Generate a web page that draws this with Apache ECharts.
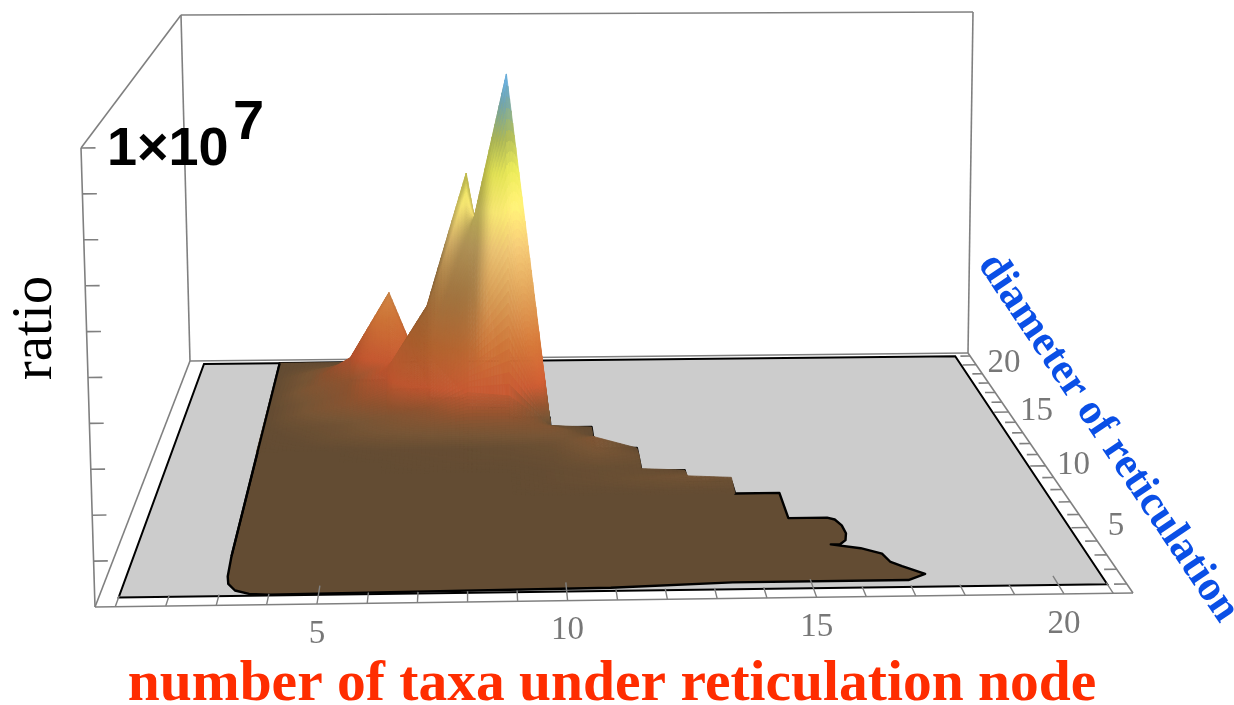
<!DOCTYPE html>
<html>
<head>
<meta charset="utf-8">
<style>
  html, body { margin: 0; padding: 0; background: #fff; }
  #chart { width: 1234px; height: 705px; }
</style>
<script src="https://cdn.jsdelivr.net/npm/echarts@6/dist/echarts.min.js"></script>
</head>
<body>
<div id="chart"></div>
<script>
// values, ratio in units of 1e6
var taxaStart = 3
var diameters = [21, 20, 19, 18, 17, 16, 15, 14, 13, 12, 11, 10, 9, 8]
var ratioGrid = [
    [0, 0, 0],
    [0, 0.1, 0.15],
    [0, 0.25, 0.55, 0],
    [0, 0.25, 0.9, 2.7, 0],
    [0, 0.3, 0.5, 1.0, 1.2, 0],
    [0, 0.2, 0.45, 1.1, 2.8, 6.4, 0],
    [0, 0.2, 0.4, 0.8, 2.1, 4.5, 9.25, 0],
    [0, 0.08, 0.15, 0.3, 0.5, 0.95, 0.85, 0.05, 0],
    [0, 0.03, 0.12, 0.2, 0.25, 0.3, 0.35, 0.3, 0.02],
    [0, 0, 0, 0.03, 0.03, 0.03, 0.05, 0.1, 0.3, 0],
    [0, 0, 0, 0, 0.02, 0.03, 0.03, 0.05, 0.2, 0.1],
    [0, 0, 0, 0, 0, 0, 0, 0.03, 0.05, 0.05, 0],
    [0, 0, 0, 0, 0, 0, 0, 0.03, 0.05, 0.1, 0.15, 0.1],
    [0, 0, 0, 0, 0, 0, 0, 0, 0, 0, 0, 0, 0]
]
// edge of the brown sheet on the floor
var outlineTaxa = [3, 5, 5, 6, 6, 7, 7, 8, 8, 9, 9, 10, 10, 11, 11, 11, 12, 12, 13, 13, 14, 14, 15, 15, 15.85, 16, 16.1, 16.12, 16.05, 15.9, 15.7, 16.3, 16.7, 16.8, 17, 17.4, 17, 13.4, 10.9, 4, 3.6, 3.3, 3.13, 3.08, 3.05]
var outlineDiam = [21, 21, 19, 19, 18, 18, 17, 17, 16, 16, 15, 15, 14, 14, 13, 12, 12, 10, 10, 9, 9, 8, 8, 6, 6, 5.85, 5.4, 4.8, 4.3, 4, 4, 3.7, 3.3, 2.7, 2.4, 1.85, 1.45, 1.45, 1.2, 1.05, 1.12, 1.35, 1.8, 2.3, 3.7]
var tickLabelsTaxa = [5, 10, 15, 20]
var tickLabelsDiam = [5, 10, 15, 20]
var ratioTicks = [1, 2, 3, 4, 5, 6, 7, 8, 9, 10]

// box extents in data units
var X0 = 0.6, X1 = 21.4, D0 = 0.4, D1 = 21.35, ZTOP = 10

// screen corners of the floor and the roof of the box
function homography(p00, p10, p11, p01) {
    var dx1 = p10[0] - p11[0], dx2 = p01[0] - p11[0], sx = p00[0] - p10[0] + p11[0] - p01[0]
    var dy1 = p10[1] - p11[1], dy2 = p01[1] - p11[1], sy = p00[1] - p10[1] + p11[1] - p01[1]
    var den = dx1 * dy2 - dx2 * dy1
    var g = (sx * dy2 - dx2 * sy) / den, h = (dx1 * sy - sx * dy1) / den
    var a = p10[0] - p00[0] + g * p10[0], b = p01[0] - p00[0] + h * p01[0]
    var d = p10[1] - p00[1] + g * p10[1], e = p01[1] - p00[1] + h * p01[1]
    return function (u, v) {
        var w = g * u + h * v + 1
        return [(a * u + b * v + p00[0]) / w, (d * u + e * v + p00[1]) / w]
    }
}
var floorH = homography([95, 607], [1133, 593], [968, 353], [190, 361])
var roofH = homography([81, 148], [1135, 141], [973, 12], [181, 15])

function project(x, d, z) {
    var u = (x - X0) / (X1 - X0), v = (d - D0) / (D1 - D0)
    var a = floorH(u, v), b = roofH(u, v), t = z / ZTOP
    return [a[0] + (b[0] - a[0]) * t, a[1] + (b[1] - a[1]) * t]
}

function gridAt(x, d) {
    var row = diameters.indexOf(d)
    if (row < 0) return null
    var v = ratioGrid[row][x - taxaStart]
    return v === undefined ? null : v
}

// bilinear height anywhere, used for the light
function heightAt(x, d) {
    var xi = Math.floor(x), di = Math.floor(d), u = x - xi, v = d - di
    var z00 = gridAt(xi, di) || 0, z10 = gridAt(xi + 1, di) || 0
    var z01 = gridAt(xi, di + 1) || 0, z11 = gridAt(xi + 1, di + 1) || 0
    return z00 * (1 - u) * (1 - v) + z10 * u * (1 - v) + z01 * (1 - u) * v + z11 * u * v
}

var colorStops = [
    [0, 99, 76, 51], [0.2, 120, 86, 54], [0.5, 145, 84, 48], [1, 200, 90, 50], [2, 205, 115, 55],
    [3.3, 215, 155, 85], [4.6, 235, 195, 115], [5.6, 248, 232, 115], [6.6, 225, 225, 85],
    [7.5, 170, 180, 85], [8.5, 110, 160, 170], [9.25, 100, 175, 235]
]
function surfaceColor(z, shade) {
    var i = 0
    while (i < colorStops.length - 2 && z > colorStops[i + 1][0]) i++
    var a = colorStops[i], b = colorStops[i + 1]
    var t = Math.min(1, Math.max(0, (z - a[0]) / (b[0] - a[0])))
    var c = [1, 2, 3].map(function (k) {
        return Math.min(255, Math.round((a[k] + (b[k] - a[k]) * t) * shade))
    })
    return 'rgb(' + c.join(',') + ')'
}

// split each grid cell so the colour runs smoothly, finer where it is steep
var cells = []
diameters.forEach(function (d) {
    if (d === diameters[0]) return
    ratioGrid[diameters.indexOf(d)].forEach(function (v, i) {
        var x = taxaStart + i
        var z = [gridAt(x, d), gridAt(x + 1, d), gridAt(x, d + 1), gridAt(x + 1, d + 1)]
        if (z.indexOf(null) >= 0 || z[0] + z[1] + z[2] + z[3] === 0) return
        var sub = Math.max.apply(null, z) - Math.min.apply(null, z) > 1.5 ? 28 : 10
        for (var m = 0; m < sub; m++) {
            for (var n = 0; n < sub; n++) {
                cells.push([x, d, n / sub, m / sub, 1 / sub])
            }
        }
    })
})
cells.sort(function (a, b) {
    var da = a[1] + a[3], db = b[1] + b[3]
    if (da !== db) return db - da
    return Math.abs(b[0] + b[2] - 12) - Math.abs(a[0] + a[2] - 12)
})

function renderCell(params, api) {
    var c = cells[params.dataIndex]
    var xi = c[0], di = c[1], u0 = c[2], v0 = c[3], s = c[4]
    var z00 = gridAt(xi, di), z10 = gridAt(xi + 1, di), z01 = gridAt(xi, di + 1), z11 = gridAt(xi + 1, di + 1)
    function zAt(u, v) {
        return z00 * (1 - u) * (1 - v) + z10 * u * (1 - v) + z01 * (1 - u) * v + z11 * u * v
    }
    var corners = [[u0, v0], [u0 + s, v0], [u0 + s, v0 + s], [u0, v0 + s]]
    var pts = corners.map(function (p) {
        return api.coord(project(xi + p[0], di + p[1], zAt(p[0], p[1])))
    })
    var uc = u0 + s / 2, vc = v0 + s / 2, xc = xi + uc, dc = di + vc
    var slopeX = (heightAt(xc + 0.8, dc) - heightAt(xc - 0.8, dc)) / 1.6
    var slopeD = (heightAt(xc, dc + 0.45) - heightAt(xc, dc - 0.45)) / 0.9
    var k = Math.min(1, Math.abs(slopeX) / 3)
    k = k * k * (3 - 2 * k)
    var shade = slopeX > 0 ? 1 - 0.26 * k : 1 + 0.05 * k
    if (slopeD < 0) shade -= 0.2 * Math.min(1, -slopeD / 1.5)
    var color = surfaceColor(zAt(uc, vc), shade)
    return {
        type: 'polygon',
        shape: { points: pts },
        style: { fill: color, stroke: color, lineWidth: 0.8 }
    }
}

// box edges and inward ticks, as [x, d, z, x, d, z]
var boxEdges = [
    [X0, D0, 0, X1, D0, 0], [X1, D0, 0, X1, D1, 0], [X1, D1, 0, X0, D1, 0], [X0, D1, 0, X0, D0, 0],
    [X0, D0, 0, X0, D0, ZTOP], [X0, D1, 0, X0, D1, ZTOP], [X1, D1, 0, X1, D1, ZTOP],
    [X0, D0, ZTOP, X0, D1, ZTOP], [X0, D1, ZTOP, X1, D1, ZTOP]
]
ratioTicks.forEach(function (t) {
    boxEdges.push([X0, D0, t, X0 + 0.28, D0, t])
})
for (var dt = 1; dt <= 21; dt++) {
    boxEdges.push([X1, dt, 0, X1 - (dt % 5 === 0 ? 0.36 : 0.26), dt, 0])
}
var frontTicks = []
for (var xt = 1; xt <= 21; xt++) {
    frontTicks.push([xt, D0, 0, xt, D0 + (xt % 5 === 0 ? 1.2 : 0.7), 0])
}
// the left side of the sheet stays visible over the mesh
var leftEdge = [[3, 21, 0, 3.05, 3.7, 0]]

function renderSegment(color, width, list) {
    return function (params, api) {
        var s = list[params.dataIndex]
        var a = api.coord(project(s[0], s[1], s[2])), b = api.coord(project(s[3], s[4], s[5]))
        return {
            type: 'line',
            shape: { x1: a[0], y1: a[1], x2: b[0], y2: b[1] },
            style: { stroke: color, lineWidth: width }
        }
    }
}

function renderFloor(params, api) {
    var plane = [[1, 1], [21, 1], [21, 21], [1, 21]].map(function (p) {
        return api.coord(project(p[0], p[1], 0))
    })
    var sheet = outlineTaxa.map(function (x, i) {
        return api.coord(project(x, outlineDiam[i], 0))
    })
    return {
        type: 'group',
        children: [
            { type: 'polygon', shape: { points: plane }, style: { fill: '#cccccc', stroke: '#000', lineWidth: 2 } },
            { type: 'polygon', shape: { points: sheet }, style: { fill: 'rgb(99,76,51)', stroke: '#000', lineWidth: 2.4, lineJoin: 'round' } }
        ]
    }
}

var tickLabels = []
tickLabelsTaxa.forEach(function (t) { tickLabels.push([t, D0, String(t), 0, 30]) })
tickLabelsDiam.forEach(function (t) { tickLabels.push([X1, t, String(t), 28, -1]) })

function renderTickLabel(params, api) {
    var l = tickLabels[params.dataIndex]
    var p = api.coord(project(l[0], l[1], 0))
    return {
        type: 'text',
        x: p[0] + l[3],
        y: p[1] + l[4],
        style: {
            text: l[2], fill: '#777777', fontSize: 33,
            fontFamily: 'Liberation Serif', align: 'center', verticalAlign: 'middle'
        }
    }
}

function customSeries(list, render) {
    return {
        type: 'custom',
        coordinateSystem: 'cartesian2d',
        data: list.map(function (v, i) { return [i] }),
        encode: { x: 0, y: 0 },
        renderItem: render,
        clip: false,
        silent: true,
        progressive: 0,
        animation: false
    }
}

var chart = echarts.init(document.getElementById('chart'))
chart.setOption({
    animation: false,
    backgroundColor: '#fff',
    grid: { left: 0, right: 0, top: 0, bottom: 0 },
    xAxis: { type: 'value', min: 0, max: 1234, show: false },
    yAxis: { type: 'value', min: 0, max: 705, inverse: true, show: false },
    series: [
        customSeries(boxEdges, renderSegment('#808080', 1.6, boxEdges)),
        customSeries([0], renderFloor),
        customSeries(cells, renderCell),
        customSeries(leftEdge, renderSegment('#000', 2.2, leftEdge)),
        customSeries(frontTicks, renderSegment('#808080', 1.4, frontTicks)),
        customSeries(tickLabels, renderTickLabel)
    ],
    graphic: [
        {
            type: 'text', x: 612, y: 685, z: 100,
            style: {
                text: 'number of taxa under reticulation node', fill: '#ff2d00',
                fontFamily: 'Liberation Serif', fontWeight: 'bold', fontSize: 57.5,
                align: 'center', verticalAlign: 'middle'
            }
        },
        {
            type: 'text', x: 1108, y: 438, z: 100, rotation: -56 * Math.PI / 180,
            style: {
                text: 'diameter of reticulation', fill: '#0a4fe6',
                fontFamily: 'Liberation Serif', fontWeight: 'bold', fontSize: 43,
                align: 'center', verticalAlign: 'middle'
            }
        },
        {
            type: 'text', x: 36, y: 328, z: 100, rotation: Math.PI / 2,
            style: {
                text: 'ratio', fill: '#000', fontFamily: 'Liberation Serif', fontSize: 57,
                align: 'center', verticalAlign: 'middle'
            }
        },
        {
            type: 'text', x: 107, y: 150, z: 100,
            style: {
                text: '1×10', fill: '#000', fontFamily: 'Liberation Sans', fontWeight: 'bold', fontSize: 54,
                align: 'left', verticalAlign: 'middle'
            }
        },
        {
            type: 'text', x: 233, y: 124, z: 100,
            style: {
                text: '7', fill: '#000', fontFamily: 'Liberation Sans', fontWeight: 'bold', fontSize: 56,
                align: 'left', verticalAlign: 'middle'
            }
        }
    ]
})
</script>
</body>
</html>
